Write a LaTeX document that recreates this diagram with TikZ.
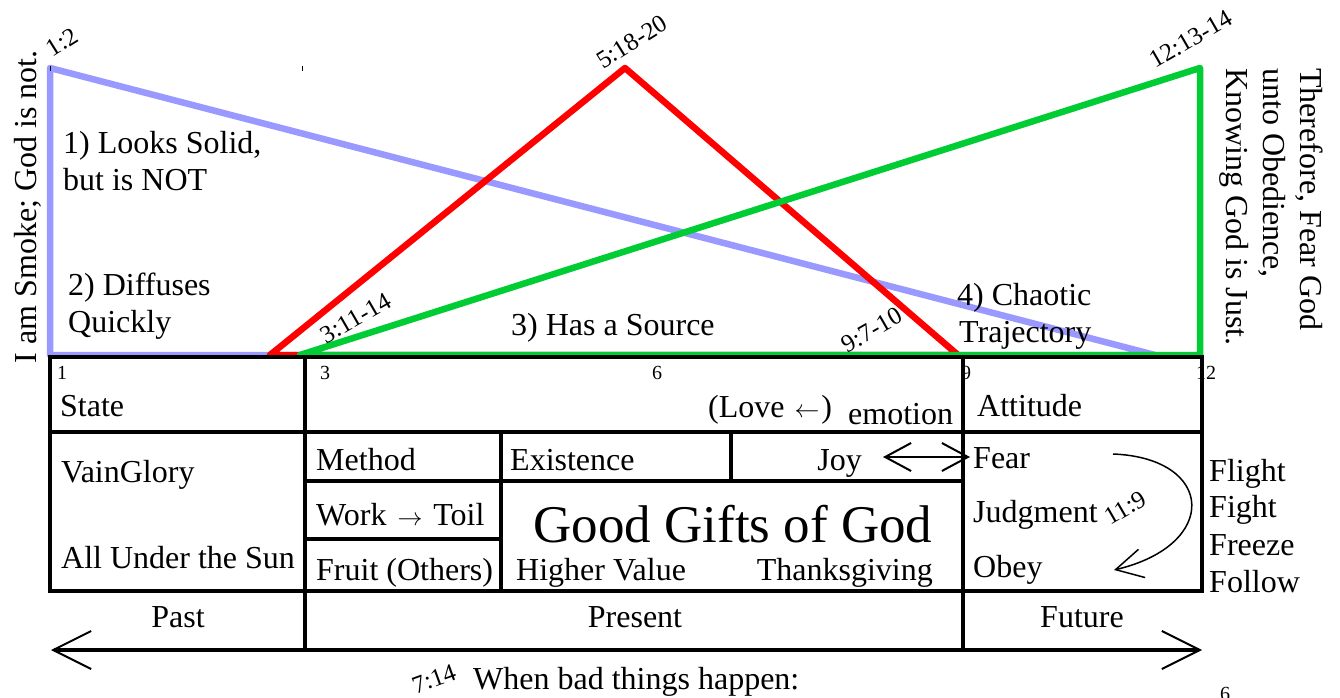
\documentclass[tikz,border=0pt]{standalone}
\usepackage{fontspec}
\setmainfont{Liberation Serif}
\usetikzlibrary{arrows.meta}
\definecolor{smoke}{RGB}{153,153,255}
\definecolor{sred}{RGB}{255,0,0}
\definecolor{sgreen}{RGB}{0,204,51}
\begin{document}
\begin{tikzpicture}[x=1pt,y=-1pt,
  txt/.style={inner sep=0pt, font=\fontsize{32}{37}\selectfont},
  ref/.style={inner sep=0pt, font=\fontsize{25}{28}\selectfont},
  num/.style={inner sep=0pt, font=\fontsize{20}{22}\selectfont},
  big/.style={inner sep=0pt, font=\fontsize{53}{60}\selectfont},
  tri/.style={line width=6.5pt, line join=round},
  grid/.style={line width=4pt},
  barb/.style={line width=2pt},
]
\useasboundingbox (0,0) rectangle (1340,698);

% triangles
\coordinate (b1) at (50,68);
\coordinate (b2) at (50,355);
\coordinate (b3) at (1155,355);
\draw[tri, smoke] (b1) -- (b2) -- (b3) -- cycle;
\coordinate (r1) at (270,355);
\coordinate (r2) at (625,68);
\coordinate (r3) at (958,355);
\draw[tri, sred] (r1) -- (r2) -- (r3) -- cycle;
\coordinate (g1) at (300,355);
\coordinate (g2) at (1200,68);
\coordinate (g3) at (1200,355);
\draw[tri, sgreen] (g1) -- (g2) -- (g3) -- cycle;

% tiny ticks
\draw[line width=1pt] (50,66) -- (50,71);
\draw[line width=1pt] (302,66) -- (302,71);

% table
\draw[grid] (50,357) rectangle (1202,591);
\draw[grid] (50,432) -- (1202,432);
\draw[grid] (305,357) -- (305,650);
\draw[grid] (963,357) -- (963,650);
\draw[grid] (305,481) -- (963,481);
\draw[grid] (501,432) -- (501,591);
\draw[grid] (731,432) -- (731,481);
\draw[grid] (305,539) -- (501,539);

% time arrow
\coordinate (tl) at (51,650);
\coordinate (tr) at (1202,650);
\draw[grid, {Straight Barb[length=38pt,width=38pt,line width=2pt]}-{Straight Barb[length=38pt,width=38pt,line width=2pt]}] (tl) -- (tr);

% joy arrow
\coordinate (ja) at (883,457);
\coordinate (jb) at (970,457);
\draw[barb, {Straight Barb[length=26pt,width=28pt]}-{Straight Barb[length=26pt,width=28pt]}] (ja) -- (jb);

% curved arrow
\coordinate (ca) at (1113,454);
\coordinate (cb) at (1114,570);
\draw[line width=1.5pt, -{Straight Barb[length=27pt,width=29pt]}] (ca) .. controls (1215,458) and (1220,545) .. (cb);

% side texts
\node[txt, rotate=90, anchor=base] (smoke) at (36,207) {I am Smoke; God is not.};
\node[txt, rotate=-90, anchor=base west] (th1) at (1300,68) {Therefore, Fear God};
\node[txt, rotate=-90, anchor=base west] (th2) at (1263,68) {unto Obedience,};
\node[txt, rotate=-90, anchor=base west] (th3) at (1226,68) {Knowing God is Just.};

% verse refs
\node[ref, rotate=32] (v12) at (62,42) {1:2};
\node[ref, rotate=32] (v518) at (632,42) {5:18-20};
\node[ref, rotate=30] (v1213) at (1191,39) {12:13-14};
\node[ref, rotate=30] (v311) at (356,318) {3:11-14};
\node[ref, rotate=30] (v97) at (872,330) {9:7-10};
\node[ref, rotate=30] (v119) at (1125,508) {11:9};
\node[ref, rotate=20] (v714) at (434,679) {7:14};

% triangle labels
\node[txt, anchor=base west] (l1a) at (63,153) {1) Looks Solid,};
\node[txt, anchor=base west] (l1b) at (63,190) {but is NOT};
\node[txt, anchor=base west] (l2a) at (68,295) {2) Diffuses};
\node[txt, anchor=base west] (l2b) at (68,332) {Quickly};
\node[txt, anchor=base west] (l3) at (511,335) {3) Has a Source};
\node[txt, anchor=base west] (l4a) at (957,305) {4) Chaotic};
\node[txt, anchor=base west] (l4b) at (959,342) {Trajectory};

% numbers
\node[num, anchor=base west] (n1) at (57,379) {1};
\node[num, anchor=base west] (n3) at (320,379) {3};
\node[num, anchor=base] (n6) at (657,379) {6};
\node[num, anchor=base west] (n9) at (961,379) {9};
\node[num, anchor=base west] (n12) at (1196,379) {12};
\node[num, anchor=north] (n6b) at (1225,687) {6};

% table text
\node[txt, anchor=base west] (state) at (60,416) {State};
\node[txt, anchor=base west] (att) at (977,416) {Attitude};
\node[txt, anchor=base west] (love) at (708,417) {(Love\hspace{2pt} {\fontsize{25}{25}\selectfont$\leftarrow$}\hspace{2pt})};
\node[txt, anchor=base west] (emo) at (848,424) {emotion};
\node[txt, anchor=base west] (vain) at (61,482) {VainGlory};
\node[txt, anchor=base west] (sun) at (61,568) {All Under the Sun};
\node[txt, anchor=base west] (meth) at (316,470) {Method};
\node[txt, anchor=base west] (exist) at (510,470) {Existence};
\node[txt, anchor=base east] (joy) at (862,470) {Joy};
\node[txt, anchor=base west] (fear) at (973,468) {Fear};
\node[txt, anchor=base west] (judg) at (973,522) {Judgment};
\node[txt, anchor=base west] (obey) at (973,577) {Obey};
\node[txt, anchor=base west] (work) at (316,525) {Work\hspace{3pt} {\fontsize{25}{25}\selectfont$\rightarrow$}\hspace{3pt} Toil};
\node[txt, anchor=base west] (fruit) at (316,580) {Fruit (Others)};
\node[big, anchor=base] (gifts) at (733,542) {Good Gifts of God};
\node[txt, anchor=base west] (higher) at (516,580) {Higher Value};
\node[txt, anchor=base east] (thanks) at (933,580) {Thanksgiving};
\node[txt, anchor=base west] (f1) at (1209,481) {Flight};
\node[txt, anchor=base west] (f2) at (1209,517) {Fight};
\node[txt, anchor=base west] (f3) at (1209,555) {Freeze};
\node[txt, anchor=base west] (f4) at (1209,592) {Follow};
\node[txt, anchor=base] (past) at (178,627) {Past};
\node[txt, anchor=base] (pres) at (635,627) {Present};
\node[txt, anchor=base] (fut) at (1082,627) {Future};
\node[txt, anchor=base west] (bad) at (473,689) {When bad things happen:};
\end{tikzpicture}
\end{document}
